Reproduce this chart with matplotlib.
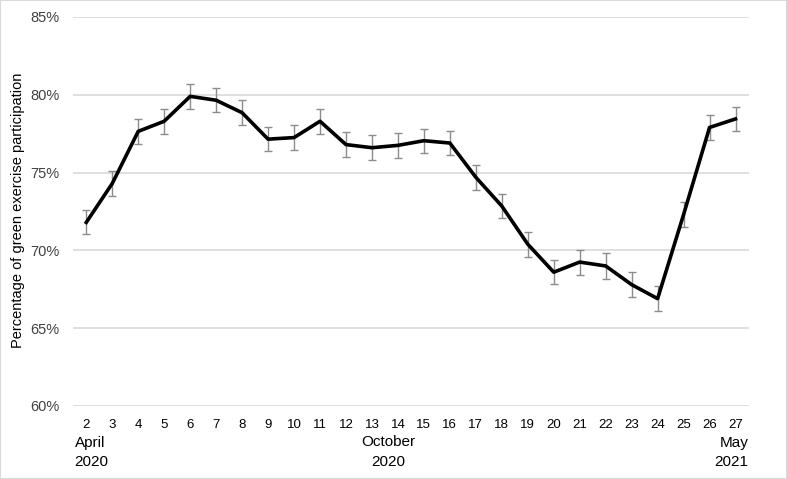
import matplotlib
matplotlib.use("Agg")
import matplotlib.pyplot as plt
from matplotlib.patches import Rectangle

weeks = list(range(2, 28))
week_labels = [str(w) for w in weeks]
values = [71.8, 74.3, 77.65, 78.3, 79.9, 79.65, 78.85, 77.15, 77.25, 78.3,
          76.8, 76.6, 76.75, 77.05, 76.9, 74.7, 72.85, 70.4, 68.6, 69.25,
          69.0, 67.8, 66.9, 72.3, 77.9, 78.45]
errors = [0.77, 0.8, 0.79, 0.79, 0.79, 0.78, 0.79, 0.79, 0.79, 0.79,
          0.78, 0.79, 0.79, 0.78, 0.79, 0.79, 0.79, 0.8, 0.79, 0.8,
          0.81, 0.8, 0.81, 0.8, 0.79, 0.79]
y_ticks = [60, 65, 70, 75, 80, 85]
y_tick_labels = [f"{t}%" for t in y_ticks]
date_labels = [("April", "2020"), ("October", "2020"), ("May", "2021")]
y_label = "Percentage of green exercise participation"

plt.rcParams['font.family'] = ['Liberation Sans', 'DejaVu Sans']

W, H = 787, 479
fig = plt.figure(figsize=(W / 100, H / 100), dpi=100)
left, right, top, bottom = 73.3, 748.5, 17, 406
ax = fig.add_axes([left / W, 1 - bottom / H, (right - left) / W, (bottom - top) / H])

ax.errorbar(weeks, values, yerr=errors, fmt='none', ecolor='#8c8c8c',
            elinewidth=1.0, capsize=3.2, capthick=1.0, zorder=2)
ax.plot(weeks, values, color='black', linewidth=2.6, solid_joinstyle='round', zorder=3)

ax.set_xlim(weeks[0] - 0.5, weeks[-1] + 0.5)
ax.set_ylim(y_ticks[0], y_ticks[-1])
ax.set_yticks(y_ticks)
ax.set_yticklabels(y_tick_labels, fontsize=10.5, color='#404040')
ax.set_xticks(weeks)
ax.set_xticklabels(week_labels, fontsize=9.5, color='black')
ax.tick_params(axis='y', length=0, pad=10)
ax.tick_params(axis='x', length=0, pad=9)
ax.grid(axis='y', color='#d9d9d9', linewidth=1.2)
ax.set_axisbelow(True)
for s in ax.spines.values():
    s.set_visible(False)

# date labels
trans = ax.get_xaxis_transform()
def px_y(p):
    return (bottom - p) / (bottom - top)

fs_d = 11
b1, b2 = 446.5, 466
ax.text(0.002, px_y(b1), date_labels[0][0], transform=ax.transAxes, ha='left', va='baseline', fontsize=fs_d, clip_on=False)
ax.text(0.002, px_y(b2), date_labels[0][1], transform=ax.transAxes, ha='left', va='baseline', fontsize=fs_d, clip_on=False)
ax.text(13.62, px_y(b1), date_labels[1][0], transform=trans, ha='center', va='baseline', fontsize=fs_d, clip_on=False)
ax.text(13.62, px_y(b2), date_labels[1][1], transform=trans, ha='center', va='baseline', fontsize=fs_d, clip_on=False)
ax.text(1.0, px_y(b1), date_labels[2][0], transform=ax.transAxes, ha='right', va='baseline', fontsize=fs_d, clip_on=False)
ax.text(1.0, px_y(b2), date_labels[2][1], transform=ax.transAxes, ha='right', va='baseline', fontsize=fs_d, clip_on=False)

fig.text(18 / W, 1 - 210 / H, y_label, rotation=90, ha='center', va='center', fontsize=10.5)

fig.patches.append(Rectangle((0, 0), 1, 1, transform=fig.transFigure, fill=False,
                             edgecolor='#d9d9d9', linewidth=1.5))

fig.savefig("out.png", dpi=100)
